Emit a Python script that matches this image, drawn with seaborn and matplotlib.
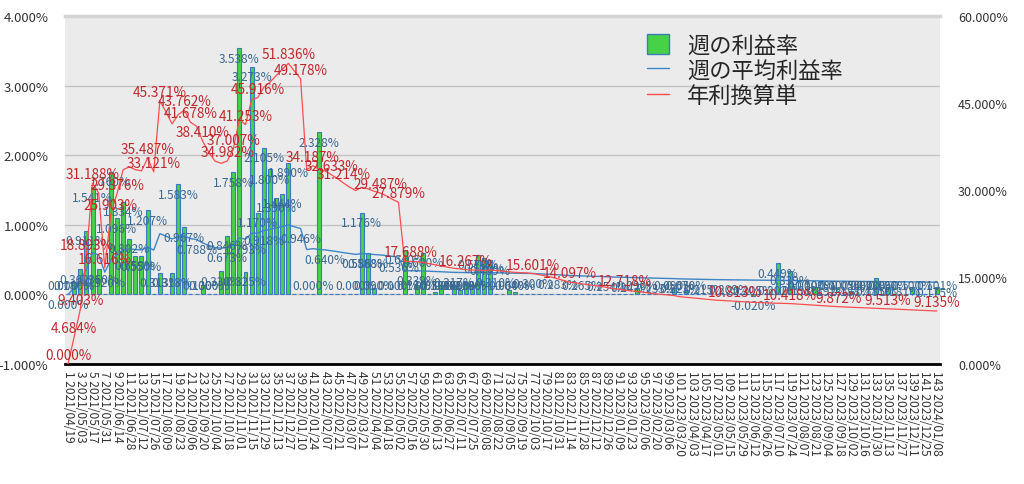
import pandas as pd
import matplotlib
matplotlib.use('Agg')
import matplotlib.pyplot as plt
import seaborn as sns
from matplotlib.patches import Patch
from matplotlib.lines import Line2D

# 週の利益率 (%) 週1〜143
weekly_rate = [
    0, 0.18, 0.362, 0.911, 1.541, 0.36, 0, 1.76, 1.096, 1.334,
    0.802, 0.553, 0.55, 1.207, 0, 0.313, 0, 0.313, 1.583, 0.967,
    0, 0, 0.13, 0, 0, 0.33, 0.846, 1.758, 3.538, 0.325,
    3.273, 1.17, 2.105, 1.8, 1.39, 1.444, 1.89, 0, 0, 0,
    0, 2.328, 0, 0, 0, 0, 0, 0, 1.176, 0.588,
    0.09, 0, 0, 0, 0, 0.64, 0, 0.13, 0.6, 0,
    0.03, 0.13, 0, 0.13, 0.06, 0.16, 0.13, 0.57, 0.52, 0.489,
    0, 0, 0.06, 0.04, 0, 0, 0, 0, 0, 0,
    0, 0, 0, 0, 0, 0, 0, 0, 0, 0,
    0, 0, 0, 0.09, 0, 0, 0, 0, 0, 0.09,
    0, 0.07, 0, 0, 0, 0, 0, 0, 0, 0,
    0, 0, -0.02, 0, 0, 0, 0.449, 0, 0.339, 0,
    0, 0, 0.1, 0, 0, 0, 0, 0, 0.05, 0,
    0, 0, 0.23, 0, 0.1, 0, 0, 0, 0.1, 0,
    0, 0, 0.101,
]

# 週の平均利益率 (%)
avg_rate = [
    0.000, 0.090, 0.181, 0.363, 0.600, 0.567, 0.320, 0.498, 0.565, 0.644,
    0.654, 0.644, 0.640, 0.682, 0.637, 0.873, 0.837, 0.796, 0.827, 0.842,
    0.802, 0.788, 0.739, 0.702, 0.673, 0.665, 0.673, 0.712, 0.812, 0.793,
    0.877, 0.883, 0.918, 0.935, 0.956, 0.977, 0.997, 0.971, 0.946, 0.644,
    0.657, 0.646, 0.640, 0.628, 0.615, 0.600, 0.587, 0.575, 0.586, 0.581,
    0.573, 0.567, 0.558, 0.546, 0.536, 0.340, 0.340, 0.339, 0.337, 0.333,
    0.329, 0.325, 0.321, 0.317, 0.315, 0.313, 0.312, 0.312, 0.310, 0.312,
    0.310, 0.308, 0.306, 0.304, 0.303, 0.302, 0.300, 0.296, 0.292, 0.288,
    0.283, 0.277, 0.271, 0.269, 0.265, 0.263, 0.260, 0.258, 0.254, 0.250,
    0.248, 0.245, 0.242, 0.240, 0.238, 0.235, 0.233, 0.231, 0.229, 0.227,
    0.223, 0.221, 0.219, 0.217, 0.215, 0.213, 0.212, 0.211, 0.209, 0.208,
    0.207, 0.206, 0.205, 0.204, 0.203, 0.202, 0.202, 0.201, 0.200, 0.199,
    0.198, 0.196, 0.195, 0.194, 0.192, 0.191, 0.190, 0.189, 0.188, 0.187,
    0.186, 0.185, 0.185, 0.184, 0.183, 0.182, 0.181, 0.180, 0.179, 0.178,
    0.177, 0.177, 0.175,
]

# 年利換算単 (%)
annual_rate = [
    0.0, 4.684, 9.403, 18.893, 31.188, 29.5, 16.616, 25.903, 29.376, 33.5,
    34.0, 33.5, 33.3, 35.487, 33.121, 45.371, 43.5, 41.4, 43.0, 43.762,
    41.678, 41.0, 38.410, 36.5, 35.0, 34.6, 34.982, 37.007, 42.2, 41.253,
    45.6, 45.916, 47.736, 48.6, 49.7, 50.8, 51.836, 50.5, 49.178, 33.5,
    34.187, 33.6, 33.28, 32.633, 32.0, 31.214, 30.5, 29.9, 30.472, 30.2,
    29.8, 29.487, 29.0, 28.4, 27.879, 17.7, 17.688, 17.628, 17.5, 17.3,
    17.1, 16.9, 16.7, 16.5, 16.4, 16.267, 16.2, 16.2, 16.1, 16.2,
    16.1, 16.0, 15.9, 15.8, 15.75, 15.7, 15.601, 15.4, 15.2, 15.0,
    14.7, 14.4, 14.097, 14.0, 13.8, 13.7, 13.5, 13.4, 13.2, 13.0,
    12.9, 12.718, 12.6, 12.5, 12.4, 12.2, 12.1, 12.0, 11.9, 11.8,
    11.6, 11.5, 11.4, 11.3, 11.2, 11.1, 11.0, 10.95, 10.88, 10.813,
    10.75, 10.7, 10.65, 10.6, 10.55, 10.5, 10.48, 10.45, 10.418, 10.35,
    10.28, 10.2, 10.14, 10.08, 10.0, 9.94, 9.872, 9.83, 9.78, 9.73,
    9.69, 9.64, 9.6, 9.56, 9.513, 9.47, 9.42, 9.37, 9.32, 9.27,
    9.22, 9.18, 9.135,
]

week_dates = pd.date_range('2021-04-19', periods=len(weekly_rate), freq='7D')
week_labels = [f'{i + 1} {d:%Y/%m/%d}' for i, d in enumerate(week_dates)]

# ラベルを付ける週番号
red_label_weeks = [1, 2, 3, 4, 5, 7, 8, 9, 14, 15, 16, 20, 21, 23, 27, 28, 30, 32, 37, 39,
                   41, 44, 46, 52, 55, 57, 66, 77, 83, 92, 110, 119, 127, 135, 143]
blue_label_weeks = [1, 7, 22, 27, 30, 33, 39, 43, 49, 55, 58, 64, 71, 77, 81, 85, 89, 93,
                    97, 101, 105, 109, 113, 117, 121, 125, 129, 133, 137, 143]
zero_label_weeks = [1, 24, 41, 48, 55, 122, 127, 132]

df = pd.DataFrame({
    'week': week_labels,
    'pos': range(len(weekly_rate)),
    'rate': weekly_rate,
    'avg': avg_rate,
    'annual': annual_rate,
})

sns.set_style('white')
plt.rcParams['font.family'] = ['Noto Sans CJK JP', 'DejaVu Sans']

bar_color = '#47d147'
edge_color = '#3c7bbf'
blue_line = '#3d85c6'
red_line = '#ff4d4d'
blue_text = '#3a6890'
red_text = '#c0282e'

fig = plt.figure(figsize=(10.24, 4.85), dpi=100)
ax = fig.add_axes([65 / 1024, 1 - 365 / 485, 875 / 1024, 348 / 485])
ax.set_facecolor('#ebebeb')

sns.barplot(data=df, x='week', y='rate', color=bar_color, edgecolor=edge_color,
            linewidth=0.8, width=0.65, saturation=1, ax=ax)
sns.lineplot(data=df, x='pos', y='avg', color=blue_line, linewidth=1, ax=ax)

ax2 = ax.twinx()
sns.lineplot(data=df, x='pos', y='annual', color=red_line, linewidth=0.9, ax=ax2)

ax.set_xlim(-0.5, len(weekly_rate) - 0.5)
ax.set_ylim(-1, 4)
ax2.set_ylim(0, 60)

ax.set_yticks([-1, 0, 1, 2, 3, 4])
ax.set_yticklabels([f'{v:.3f}%' for v in [-1, 0, 1, 2, 3, 4]])
ax2.set_yticks([0, 15, 30, 45, 60])
ax2.set_yticklabels([f'{v:.3f}%' for v in [0, 15, 30, 45, 60]])
ax.tick_params(axis='y', length=0, pad=12, labelsize=9.5, labelcolor='#333333')
ax2.tick_params(axis='y', length=0, pad=13, labelsize=9, labelcolor='#333333')

ax.set_xticks(range(0, len(weekly_rate), 2))
ax.set_xticklabels(week_labels[::2], rotation=-90, fontsize=8.6, color='#333333')
ax.tick_params(axis='x', length=0, pad=4)

ax.set_xlabel('')
ax.set_ylabel('')
ax2.set_ylabel('')

ax.yaxis.grid(True, color='#c4c4c4', linewidth=1)
ax.set_axisbelow(True)
for a in (ax, ax2):
    for side in ['left', 'right', 'top', 'bottom']:
        a.spines[side].set_visible(False)
ax.spines['bottom'].set_visible(True)
ax.spines['bottom'].set_color('black')
ax.spines['bottom'].set_linewidth(2)
ax.spines['top'].set_visible(True)
ax.spines['top'].set_color('#d4d4d4')
ax.spines['top'].set_linewidth(2.5)

# 棒のラベル
for i, v in enumerate(weekly_rate):
    week = i + 1
    if v == 0 and week not in zero_label_weeks:
        continue
    if v * 69.6 > 20:
        ax.annotate(f'{v:.3f}%', (i, v), xytext=(0, -10), textcoords='offset pixels',
                    ha='center', va='center', fontsize=8.6, color=blue_text)
    elif v >= 0:
        ax.annotate(f'{v:.3f}%', (i, 0), xytext=(0, 9), textcoords='offset pixels',
                    ha='center', va='center', fontsize=8.6, color=blue_text)
    else:
        ax.annotate(f'{v:.3f}%', (i, v), xytext=(0, -10), textcoords='offset pixels',
                    ha='center', va='center', fontsize=8.6, color=blue_text)

# 平均線のラベル
for week in blue_label_weeks:
    v = avg_rate[week - 1]
    ax.annotate(f'{v:.3f}%', (week - 1, v), xytext=(0, -10), textcoords='offset pixels',
                ha='center', va='center', fontsize=8.6, color=blue_text)

# 年利線のラベル
for week in red_label_weeks:
    v = annual_rate[week - 1]
    ax2.annotate(f'{v:.3f}%', (week - 1, v), xytext=(0, 9), textcoords='offset pixels',
                 ha='center', va='center', fontsize=9.8, color=red_text)

handles = [
    Patch(facecolor=bar_color, edgecolor=edge_color, linewidth=1),
    Line2D([0], [0], color=blue_line, linewidth=1),
    Line2D([0], [0], color=red_line, linewidth=1),
]
ax2.legend(handles, ['週の利益率', '週の平均利益率', '年利換算単'], loc='upper left',
           bbox_to_anchor=(0.655, 0.975), frameon=False, fontsize=16,
           handlelength=1.0, handleheight=1.0, labelspacing=0.12, handletextpad=0.8,
           borderaxespad=0)

plt.savefig('out.png', dpi=100)
plt.close()
